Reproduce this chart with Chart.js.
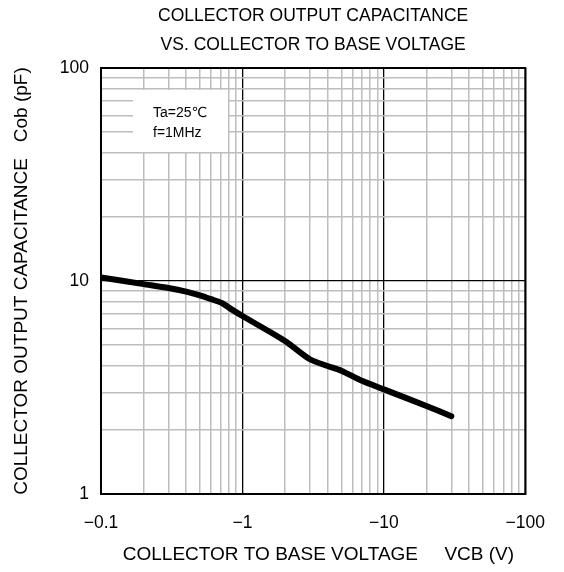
<!DOCTYPE html>
<html>
<head>
<meta charset="utf-8">
<script src="https://cdn.jsdelivr.net/npm/chart.js@4"></script>
<style>
html,body{margin:0;padding:0;background:#fff}
#wrap{width:564px;height:572px}
</style>
</head>
<body>
<div id="wrap"><canvas id="c" width="564" height="572"></canvas></div>
<script>
// ---- data ----
const vcbAbs = [0.1, 0.2, 0.3, 0.4, 0.5, 0.6, 0.72, 0.85, 1, 2, 3, 4, 5, 7, 10, 20, 30];
const cobPf  = [10.4, 9.67, 9.27, 8.92, 8.57, 8.22, 7.86, 7.32, 6.85, 5.23, 4.29, 3.99, 3.79, 3.40, 3.10, 2.59, 2.32];
const xTickValues = [0.1, 1, 10, 100];
const xTickLabels = ['−0.1', '−1', '−10', '−100'];
const yTickValues = [1, 10, 100];
const yTickLabels = ['1', '10', '100'];
const titleLines = ['COLLECTOR OUTPUT CAPACITANCE', 'VS. COLLECTOR TO BASE VOLTAGE'];
const xTitle = '  COLLECTOR TO BASE VOLTAGE     VCB (V)';
const yTitle = 'COLLECTOR OUTPUT CAPACITANCE   Cob (pF)';
const conditions = ['Ta=25℃', 'f=1MHz'];

const FF = '"Liberation Sans", Arial, "DejaVu Sans", sans-serif';

function gridValues(min, max) {
  const out = [];
  for (let d = min; d < max * 0.999; d *= 10) {
    for (let m = 1; m <= 9; m++) out.push(+(d * m).toPrecision(6));
  }
  out.push(max);
  return out;
}
function isMajor(v) {
  const l = Math.log10(v);
  return Math.abs(l - Math.round(l)) < 1e-6;
}
function labelFor(values, labels, v) {
  const i = values.findIndex(t => Math.abs(t - v) / t < 1e-6);
  return i >= 0 ? labels[i] : '';
}

const decorPlugin = {
  id: 'decor',
  beforeDatasetsDraw(chart) {
    const {ctx, chartArea: a} = chart;
    ctx.save();
    ctx.fillStyle = '#fff';
    ctx.fillRect(a.left + 32, a.top + 22, 95, 62);
    ctx.fillStyle = '#000';
    ctx.font = '14px ' + FF;
    ctx.textBaseline = 'middle';
    ctx.textAlign = 'left';
    conditions.forEach((t, i) => ctx.fillText(t, a.left + 52, a.top + 45 + i * 20));
    ctx.restore();
  },
  afterDatasetsDraw(chart) {
    const {ctx, chartArea: a} = chart;
    ctx.save();
    ctx.strokeStyle = '#000';
    ctx.lineWidth = 2;
    ctx.strokeRect(a.left, a.top, a.right - a.left, a.bottom - a.top);
    ctx.restore();
  }
};

const gridCfg = {
  drawTicks: false,
  color: c => (c.tick && isMajor(c.tick.value)) ? '#000' : '#bdbdbd',
  lineWidth: c => (c.tick && isMajor(c.tick.value)) ? 1.3 : 1.5
};

new Chart(document.getElementById('c'), {
  type: 'line',
  data: {
    datasets: [{
      data: vcbAbs.map((x, i) => ({x: x, y: cobPf[i]})),
      borderColor: '#000',
      borderWidth: 6,
      pointRadius: 0,
      tension: 0.25,
      borderCapStyle: 'round',
      borderJoinStyle: 'round',
      fill: false
    }]
  },
  options: {
    responsive: false,
    animation: false,
    devicePixelRatio: 1,
    layout: {padding: {left: 0, right: 37, top: 0, bottom: 0}},
    plugins: {
      legend: {display: false},
      tooltip: {enabled: false},
      title: {
        display: true,
        text: titleLines,
        fullSize: false,
        color: '#000',
        font: {family: FF, size: 17.5, weight: 'normal', lineHeight: '29px'},
        padding: {top: 2, bottom: 8}
      }
    },
    scales: {
      x: {
        type: 'logarithmic',
        min: 0.1, max: 100,
        afterBuildTicks: s => { s.ticks = gridValues(0.1, 100).map(v => ({value: v})); },
        afterFit: s => { s.height = 78; },
        grid: gridCfg,
        border: {display: true, color: '#000', width: 2},
        ticks: {
          autoSkip: false, maxRotation: 0, color: '#000', padding: 19,
          font: {family: FF, size: 17.5},
          callback: v => labelFor(xTickValues, xTickLabels, v)
        },
        title: {
          display: true, text: xTitle, color: '#000',
          font: {family: FF, size: 19}, padding: {top: 0, bottom: 5.6}
        }
      },
      y: {
        type: 'logarithmic',
        min: 1, max: 100,
        afterBuildTicks: s => { s.ticks = gridValues(1, 100).map(v => ({value: v})); },
        afterFit: s => { s.width = 101; },
        grid: gridCfg,
        border: {display: true, color: '#000', width: 2},
        ticks: {
          autoSkip: false, color: '#000', padding: 12,
          font: {family: FF, size: 17.5},
          callback: v => labelFor(yTickValues, yTickLabels, v)
        },
        title: {
          display: true, text: yTitle, color: '#000',
          font: {family: FF, size: 19}, padding: {top: 10.5, bottom: 0}
        }
      }
    }
  },
  plugins: [decorPlugin]
});
</script>
</body>
</html>
